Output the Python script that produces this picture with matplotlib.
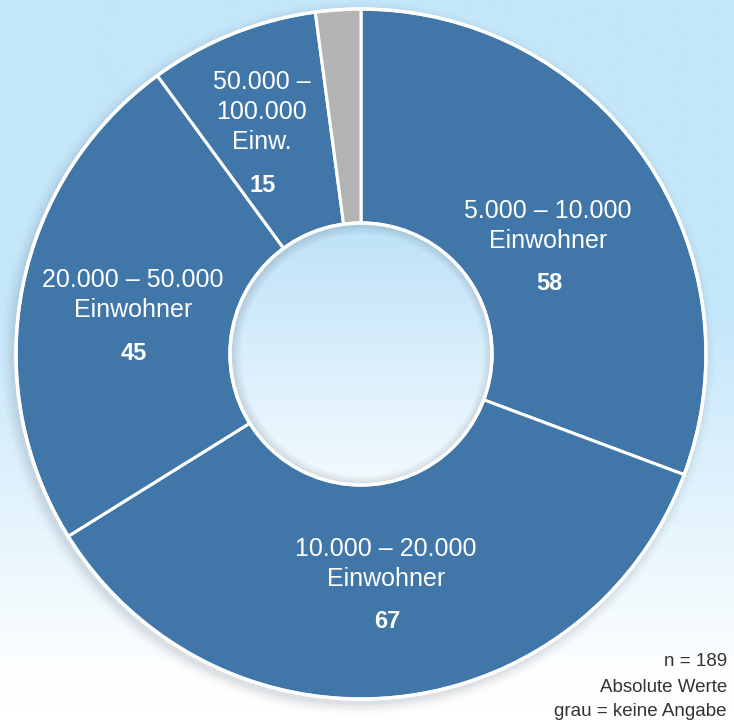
import numpy as np
import matplotlib
matplotlib.use("Agg")
import matplotlib.pyplot as plt
from matplotlib.patches import Circle
from matplotlib.colors import LinearSegmentedColormap

plt.rcParams['font.family'] = ['Liberation Sans', 'DejaVu Sans']

# ---- data ----
categories = ["5.000 – 10.000\nEinwohner", "10.000 – 20.000\nEinwohner",
              "20.000 – 50.000\nEinwohner", "50.000 –\n100.000\nEinw.", "keine Angabe"]
values = [58, 67, 45, 15, 4]
slice_colors = ["#4076A8", "#4076A8", "#4076A8", "#4076A8", "#B3B3B3"]
n_total = 189
notes = ["n = 189", "Absolute Werte", "grau = keine Angabe"]

W, H = 734, 720
fig = plt.figure(figsize=(W / 100, H / 100), dpi=100)
ax = fig.add_axes([0, 0, 1, 1])
ax.set_xlim(0, W)
ax.set_ylim(0, H)
ax.set_aspect('equal')
ax.axis('off')

# background gradient (top light blue -> bottom white)
ys = np.linspace(0, 1, 400)
grad = np.interp(ys, [0, 0.06, 0.58, 1.0], [0.0, 0.02, 1.0, 1.0])
ax.imshow(grad[:, None], extent=[0, W, 0, H], origin='lower', aspect='auto',
          cmap=LinearSegmentedColormap.from_list("bg2", ["#FFFFFF", "#C3E6FA"]),
          vmin=0, vmax=1, zorder=0)

cx, cy = 361, H - 354
R, r = 345, 131

# soft shadow behind ring
for i, a in enumerate(np.linspace(0.06, 0.01, 6)):
    ax.add_patch(Circle((cx - 3, cy - 4), R + 2 + i * 2, color="#6A7A88", alpha=a, lw=0, zorder=1))

wedges, _ = ax.pie(values, colors=slice_colors, startangle=90, counterclock=False,
                   radius=R, center=(cx, cy),
                   wedgeprops=dict(width=R - r, edgecolor="white", linewidth=2.2),
                   frame=True)
for w in wedges:
    w.set_zorder(2)
ax.set_xlim(0, W)
ax.set_ylim(0, H)
ax.axis('off')

# outer white outline
ax.add_patch(Circle((cx, cy), R, fill=False, ec="white", lw=2.5, zorder=3))

# inner hole gradient
hole = Circle((cx, cy), r, transform=ax.transData)
hg = np.linspace(0, 1, 200)
im = ax.imshow(hg[:, None], extent=[cx - r, cx + r, cy - r, cy + r], origin='lower', aspect='auto',
               cmap=LinearSegmentedColormap.from_list("hole", ["#F4FAFE", "#BDE2F8"]),
               vmin=0, vmax=1, zorder=4)
im.set_clip_path(hole)
# inner shadow
for i, a in enumerate(np.linspace(0.12, 0.0, 7)):
    c = Circle((cx + 1, cy - 1), r - 1 - i * 1.6, fill=False, ec="#4A5866", lw=2, alpha=a, zorder=5)
    c.set_clip_path(hole)
    ax.add_patch(c)
ax.add_patch(Circle((cx, cy), r, fill=False, ec="white", lw=2.5, zorder=6))

# labels (positions in pixel coords from top)
label_pos = [(548, 226), (386, 564), (133, 295), (262, 112)]
num_pos = [(549, 284), (387, 622), (134, 353), (263, 185)]
for i in range(4):
    x, y = label_pos[i]
    ax.text(x, H - y, categories[i], ha='center', va='center', color='white',
            fontsize=18, linespacing=1.32, zorder=7)
    x, y = num_pos[i]
    ax.text(x, H - y, str(values[i]), ha='center', va='center', color='white',
            fontsize=17, fontweight='bold', zorder=7)

# notes bottom right
for txt, y in zip(notes, [662, 687, 711]):
    ax.text(727, H - y, txt, ha='right', va='center', color='#333333', fontsize=13.5, zorder=7)

fig.savefig("out.png", dpi=100)
